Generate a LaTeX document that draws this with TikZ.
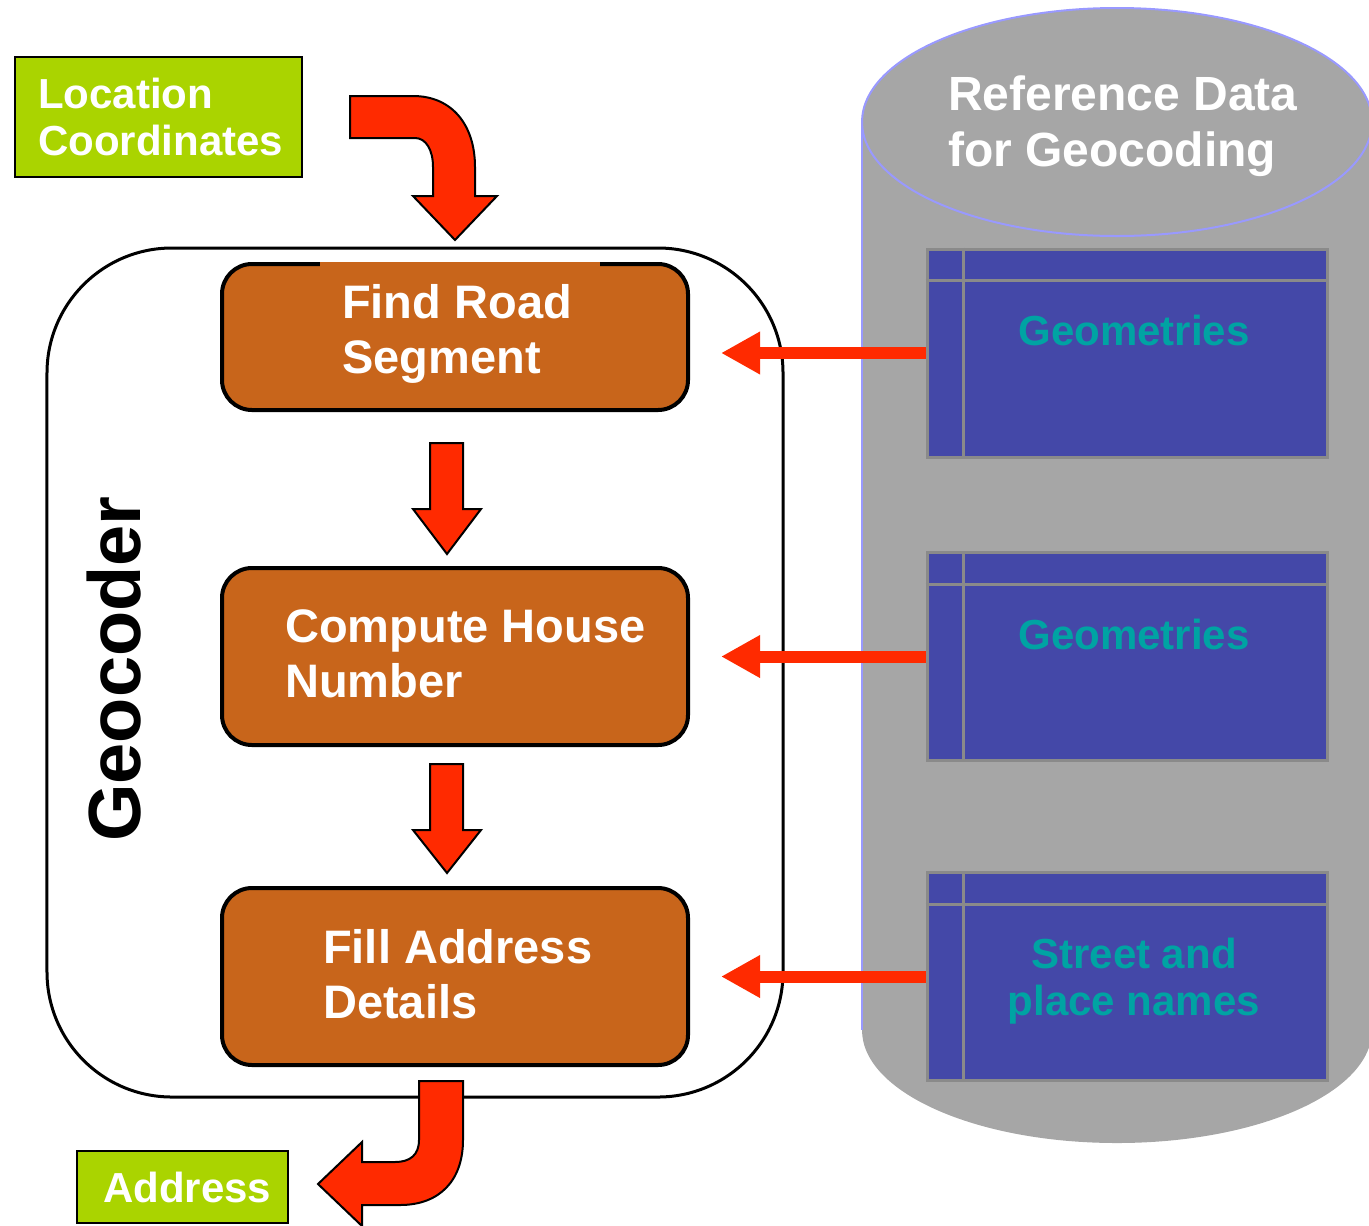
\documentclass[tikz,border=0pt]{standalone}
\usepackage{fontspec}
\setmainfont{Liberation Sans}
\usetikzlibrary{arrows.meta,calc}
\definecolor{limegreen}{HTML}{AAD400}
\definecolor{procorange}{HTML}{C8651B}
\definecolor{arrowred}{HTML}{FF2A00}
\definecolor{cylgray}{HTML}{A6A6A6}
\definecolor{cylblue}{HTML}{9999FF}
\definecolor{tabfill}{HTML}{4448A8}
\definecolor{tabline}{HTML}{8A8A8A}
\definecolor{tabtext}{HTML}{00A3A3}
\begin{document}
\begin{tikzpicture}[x=1bp,y=-1bp,
  procbox/.style={rectangle, draw=black, line width=4bp, fill=procorange, rounded corners=30bp, minimum width=466bp, inner sep=0pt},
  labelbox/.style={rectangle, draw=black, line width=2bp, fill=limegreen, inner sep=0pt},
  tablebox/.style={rectangle, draw=tabline, line width=3bp, fill=tabfill, minimum width=400bp, minimum height=208bp, inner sep=0pt},
  tableline/.style={draw=tabline, line width=3bp},
  proctext/.style={anchor=base west, inner sep=0pt, text=white, font=\fontsize{47bp}{55bp}\selectfont\bfseries},
  labeltext/.style={anchor=base west, inner sep=0pt, text=white, font=\fontsize{42bp}{47bp}\selectfont\bfseries},
  reftext/.style={anchor=base west, inner sep=0pt, text=white, font=\fontsize{48bp}{56bp}\selectfont\bfseries},
  tabtextstyle/.style={anchor=base, inner sep=0pt, text=tabtext, font=\fontsize{42bp}{47bp}\selectfont\bfseries},
  blockarrow/.style={fill=arrowred, draw=black, line width=2bp, line join=miter},
  feedarrow/.style={draw=arrowred, line width=12bp, -{Triangle[length=39bp,width=40bp]}, shorten >=31bp}
]
\useasboundingbox (0,0) rectangle (1369,1225);

% cylinder
\fill[cylgray] (862,122) -- (862,1030) arc[start angle=180, end angle=0, x radius=255, y radius=113] -- (1372,122) -- cycle;
\draw[cylblue, line width=2bp] (862,122) -- (862,1030);
\filldraw[fill=cylgray, draw=cylblue, line width=2bp] (1117,122) ellipse[x radius=255, y radius=114];
\node[reftext] (ref1) at (948,110) {Reference Data};
\node[reftext] (ref2) at (948,166) {for Geocoding};

% tables
\node[tablebox] (t1) at (1127,353) {};
\node[tablebox] (t2) at (1127,656.5) {};
\node[tablebox] (t3) at (1127,976.5) {};
\foreach \t in {t1,t2,t3}{
  \draw[tableline] ($(\t.north west)+(0,33)$) -- ($(\t.north east)+(0,33)$);
  \draw[tableline] ($(\t.north west)+(38,0)$) -- ($(\t.south west)+(38,0)$);
}
\node[tabtextstyle] (t1a) at (1134,345) {Geometries};
\node[tabtextstyle] (t2a) at (1134,649) {Geometries};
\node[tabtextstyle] (t3a) at (1134,968) {Street and};
\node[tabtextstyle] (t3b) at (1134,1015) {place names};

% geocoder frame
\node[rectangle, draw=black, line width=3bp, rounded corners=125bp, minimum width=736bp, minimum height=849bp, inner sep=0pt] (geo) at (415,672.5) {};
\node[rotate=90, anchor=base, inner sep=0pt, font=\fontsize{74bp}{80bp}\selectfont\bfseries] (geotext) at (140,669) {Geocoder};

% process boxes
\node[procbox, minimum height=146bp] (b1) at (455,337) {};
\fill[procorange] (320,262) rectangle (600,271);
\node[procbox, minimum height=177bp] (b2) at (455,656.5) {};
\node[procbox, minimum height=177bp] (b3) at (455,976.5) {};
\node[proctext] (b1a) at (342,318) {Find Road};
\node[proctext] (b1b) at (342,373) {Segment};
\node[proctext] (b2a) at (285,642) {Compute House};
\node[proctext] (b2b) at (285,697) {Number};
\node[proctext] (b3a) at (323,963) {Fill Address};
\node[proctext] (b3b) at (323,1018) {Details};

% input / output labels
\node[labelbox, minimum width=287bp, minimum height=120bp] (loc) at (158.5,117) {};
\node[labeltext] (loca) at (38,108) {Location};
\node[labeltext] (locb) at (38,155) {Coordinates};
\node[labelbox, minimum width=211bp, minimum height=72bp] (addr) at (182.5,1187) {};
\node[labeltext] (addra) at (103,1202) {Address};

% curved input arrow
\draw[blockarrow] (350,96) -- (413,96) .. controls (452,96) and (475,125) .. (475,167) -- (475,196) -- (497,196) -- (455,240) -- (413,196) -- (433,196) -- (433,167) .. controls (433,150) and (426,138) .. (415,138) -- (350,138) -- cycle;

% down arrows
\draw[blockarrow] (430,443) -- (463,443) -- (463,509) -- (481,509) -- (447,554) -- (413,509) -- (430,509) -- cycle;
\draw[blockarrow] (430,764) -- (463,764) -- (463,830) -- (481,830) -- (447,873) -- (413,830) -- (430,830) -- cycle;

% curved output arrow
\draw[blockarrow] (419,1081) -- (463,1081) -- (463,1140) .. controls (463,1180) and (440,1205) .. (400,1205) -- (362,1205) -- (362,1226) -- (318,1184) -- (362,1142) -- (362,1162) -- (395,1162) .. controls (410,1162) and (419,1155) .. (419,1140) -- cycle;

% feed arrows from reference data
\draw[feedarrow] (t1.west) -- (t1.west -| b1.east);
\draw[feedarrow] (t2.west) -- (t2.west -| b2.east);
\draw[feedarrow] (t3.west) -- (t3.west -| b3.east);
\end{tikzpicture}
\end{document}
